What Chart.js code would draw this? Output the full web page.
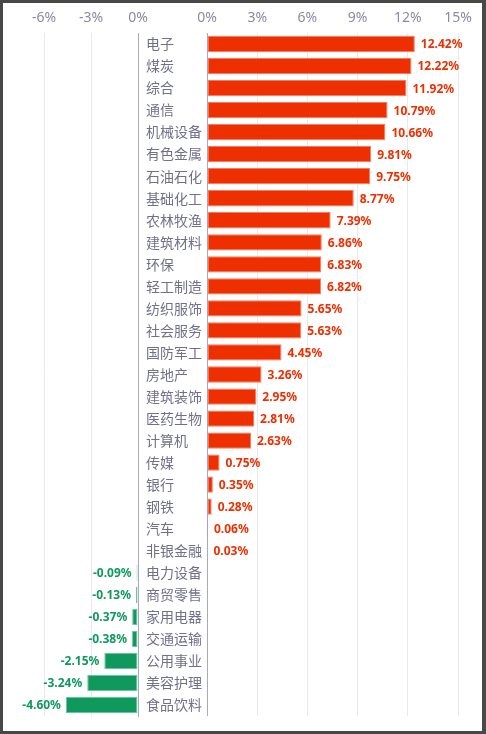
<!DOCTYPE html>
<html>
<head>
<meta charset="utf-8">
<script src="https://cdn.jsdelivr.net/npm/chart.js@4"></script>
<style>
  html, body { margin: 0; padding: 0; background: #fff; }
  #wrap { position: relative; width: 486px; height: 734px; overflow: hidden; }
  .layer { position: absolute; left: 0; top: 0; width: 486px; height: 734px; }
  #frame { position: absolute; left: 0; top: 0; width: 486px; height: 734px; box-sizing: border-box;
           border: 3px solid #484848; border-right-width: 4px; pointer-events: none; }
</style>
</head>
<body>
<div id="wrap">
  <div class="layer"><canvas id="leftChart"></canvas></div>
  <div class="layer"><canvas id="rightChart"></canvas></div>
  <div id="frame"></div>
</div>
<script>
// sectors, top to bottom
const sectors = ['电子','煤炭','综合','通信','机械设备','有色金属','石油石化','基础化工','农林牧渔','建筑材料',
  '环保','轻工制造','纺织服饰','社会服务','国防军工','房地产','建筑装饰','医药生物','计算机','传媒',
  '银行','钢铁','汽车','非银金融','电力设备','商贸零售','家用电器','交通运输','公用事业','美容护理','食品饮料'];
// weekly change, %
const changes = [12.42, 12.22, 11.92, 10.79, 10.66, 9.81, 9.75, 8.77, 7.39, 6.86,
  6.83, 6.82, 5.65, 5.63, 4.45, 3.26, 2.95, 2.81, 2.63, 0.75,
  0.35, 0.28, 0.06, 0.03, -0.09, -0.13, -0.37, -0.38, -2.15, -3.24, -4.60];
const leftTicks = [-6, -3, 0];
const rightTicks = [0, 3, 6, 9, 12, 15];

const upVals = changes.map(v => v >= 0 ? v : null);
const downVals = changes.map(v => v < 0 ? v : null);

const RED = '#ee2f00', RED_EDGE = '#f57a62';
const GREEN = '#0f995d', GREEN_EDGE = '#6cc49c';
const AXIS = '#a9a9c6', GRID = '#e8e8f0', TICK = '#8a8aa0';

// value text at the end of each bar
const valueLabels = {
  id: 'valueLabels',
  afterDatasetsDraw(chart) {
    const ctx = chart.ctx;
    const meta = chart.getDatasetMeta(0);
    const data = chart.data.datasets[0].data;
    ctx.save();
    ctx.font = 'bold 12px "Noto Sans", "DejaVu Sans", sans-serif';
    ctx.textBaseline = 'middle';
    meta.data.forEach((bar, i) => {
      const v = data[i];
      if (v === null) return;
      if (v >= 0) {
        ctx.fillStyle = RED;
        ctx.textAlign = 'left';
        ctx.fillText(v.toFixed(2) + '%', bar.x + 6, bar.y + 1);
      } else {
        ctx.fillStyle = GREEN;
        ctx.textAlign = 'right';
        ctx.fillText(v.toFixed(2) + '%', bar.x - 5, bar.y + 1);
      }
    });
    ctx.restore();
  }
};

function fixHeight(h) { return scale => { scale.height = h; }; }

new Chart(document.getElementById('leftChart'), {
  type: 'bar',
  data: {
    labels: sectors,
    datasets: [{
      data: downVals,
      backgroundColor: GREEN,
      borderColor: GREEN_EDGE,
      borderWidth: 1,
      borderSkipped: false,
      barPercentage: 0.74,
      categoryPercentage: 1
    }]
  },
  options: {
    indexAxis: 'y',
    responsive: true,
    maintainAspectRatio: false,
    animation: false,
    layout: { padding: { left: 44, right: 279, top: 0, bottom: 18 } },
    plugins: { legend: { display: false }, tooltip: { enabled: false } },
    scales: {
      x: {
        position: 'top',
        min: -6, max: 0,
        afterBuildTicks: s => { s.ticks = leftTicks.map(v => ({ value: v })); },
        afterFit: fixHeight(33),
        ticks: { padding: 7, color: TICK, font: { size: 14, family: '"Noto Sans", sans-serif' }, callback: v => v + '%' },
        grid: { color: GRID, drawTicks: false },
        border: { display: false }
      },
      y: {
        position: 'right',
        afterFit: s => { s.width = 69; },
        ticks: { padding: 8, color: '#70708a', font: { size: 14, family: '"Noto Sans CJK SC", sans-serif' } },
        grid: { display: false, drawTicks: false },
        border: { color: AXIS, width: 1 }
      }
    }
  },
  plugins: [valueLabels]
});

new Chart(document.getElementById('rightChart'), {
  type: 'bar',
  data: {
    labels: sectors,
    datasets: [{
      data: upVals,
      backgroundColor: RED,
      borderColor: RED_EDGE,
      borderWidth: 1,
      borderSkipped: false,
      barPercentage: 0.74,
      categoryPercentage: 1
    }]
  },
  options: {
    indexAxis: 'y',
    responsive: true,
    maintainAspectRatio: false,
    animation: false,
    layout: { padding: { left: 207, right: 28, top: 0, bottom: 18 } },
    plugins: { legend: { display: false }, tooltip: { enabled: false } },
    scales: {
      x: {
        position: 'top',
        min: 0, max: 15,
        afterBuildTicks: s => { s.ticks = rightTicks.map(v => ({ value: v })); },
        afterFit: fixHeight(33),
        ticks: { padding: 7, color: TICK, font: { size: 14, family: '"Noto Sans", sans-serif' }, callback: v => v + '%' },
        grid: { color: c => (c.tick && c.tick.value === 0) ? AXIS : GRID, drawTicks: false },
        border: { display: false }
      },
      y: { display: false }
    }
  },
  plugins: [valueLabels]
});
</script>
</body>
</html>
